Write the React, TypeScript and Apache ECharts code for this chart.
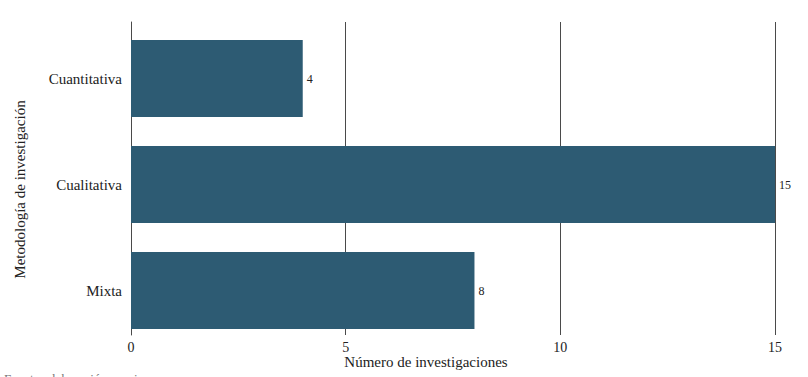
import React, { useEffect, useRef } from "react";
import * as echarts from "echarts";

const categories = ["Mixta", "Cualitativa", "Cuantitativa"];
const values = [8, 15, 4];
const xTicks = { min: 0, max: 15, interval: 5 };
const xAxisTitle = "Número de investigaciones";
const yAxisTitle = "Metodología de investigación";
const sourceNote = "Fuente: elaboración propia";

const FONT = "'Liberation Serif', 'DejaVu Serif', serif";
const BAR = "#2d5b73";
const LINE = "#4a4a4a";

export default function App() {
  const ref = useRef<HTMLDivElement>(null);
  useEffect(() => {
    if (!ref.current) return;
    const chart = echarts.init(ref.current, null, { renderer: "svg" });
    chart.setOption({
      animation: false,
      backgroundColor: "#ffffff",
      textStyle: { fontFamily: FONT },
      grid: [
        { left: 131, right: 33, top: 25.5, bottom: 33.5 },
        { left: 131, right: 33, top: 22, bottom: 42 },
      ],
      xAxis: [
        { type: "value", gridIndex: 0, min: xTicks.min, max: xTicks.max, interval: xTicks.interval, show: false },
        {
          type: "value",
          gridIndex: 1,
          min: xTicks.min,
          max: xTicks.max,
          interval: xTicks.interval,
          axisLine: { show: false },
          axisTick: { show: false },
          splitLine: { show: true, lineStyle: { color: LINE, width: 1 } },
          axisLabel: { fontFamily: FONT, fontSize: 14, color: "#222", margin: 5 },
        },
      ],
      yAxis: [
        {
          type: "category",
          gridIndex: 0,
          data: categories,
          axisLine: { show: false },
          axisTick: { show: false },
          splitLine: { show: false },
          axisLabel: { fontFamily: FONT, fontSize: 15, color: "#222", margin: 9 },
        },
        {
          type: "value",
          gridIndex: 1,
          min: 0,
          max: 1,
          axisLine: { show: true, lineStyle: { color: LINE, width: 1 } },
          axisTick: { show: false },
          axisLabel: { show: false },
          splitLine: { show: false },
        },
      ],
      series: [
        {
          type: "bar",
          xAxisIndex: 0,
          yAxisIndex: 0,
          data: values,
          barWidth: 77,
          itemStyle: { color: BAR },
          label: {
            show: true,
            position: "right",
            distance: 4,
            fontFamily: FONT,
            fontSize: 12,
            color: "#222",
          },
          z: 3,
        },
      ],
      graphic: [
        {
          type: "text",
          x: 20,
          y: 189.5,
          rotation: Math.PI / 2,
          style: {
            text: yAxisTitle,
            fontFamily: FONT,
            fontSize: 15,
            fill: "#222",
            align: "center",
            verticalAlign: "middle",
          },
        },
        {
          type: "text",
          x: 426,
          y: 362,
          style: {
            text: xAxisTitle,
            fontFamily: FONT,
            fontSize: 15,
            fill: "#222",
            align: "center",
            verticalAlign: "middle",
          },
        },
        {
          type: "text",
          x: 4,
          y: 372,
          style: {
            text: sourceNote,
            fontFamily: FONT,
            fontSize: 13,
            fill: "#777",
            align: "left",
            verticalAlign: "top",
          },
        },
      ],
    });
    return () => chart.dispose();
  }, []);
  return (
    <div
      ref={ref}
      style={{ position: "absolute", left: 0, top: 0, width: 808, height: 377, overflow: "hidden" }}
    />
  );
}
